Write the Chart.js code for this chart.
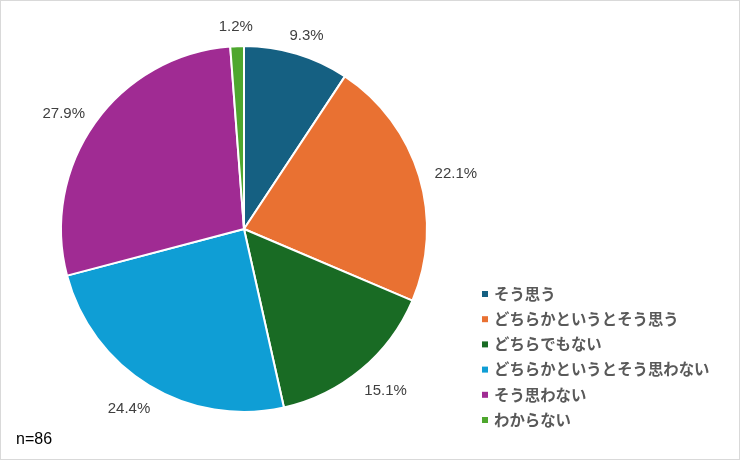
<!DOCTYPE html>
<html>
<head>
<meta charset="utf-8">
<script src="https://cdn.jsdelivr.net/npm/chart.js@4/dist/chart.umd.min.js"></script>
<style>
  html, body { margin: 0; padding: 0; background: #fff; }
  #wrap { width: 740px; height: 460px; position: relative; }
</style>
</head>
<body>
<div id="wrap"><canvas id="myChart" width="740" height="460"></canvas></div>
<script>
// 回答カテゴリ
const categories = ['そう思う', 'どちらかというとそう思う', 'どちらでもない', 'どちらかというとそう思わない', 'そう思わない', 'わからない'];
// 割合 (%)
const percents = [9.3, 22.1, 15.1, 24.4, 27.9, 1.2];
const sliceColors = ['#156082', '#E97132', '#196B24', '#0F9ED5', '#A02B93', '#4EA72E'];
const sampleNote = 'n=86';

// ラベル・凡例・枠線を描くプラグイン
const decorPlugin = {
    id: 'decor',
    afterDraw(chart) {
        const ctx = chart.ctx;
        const meta = chart.getDatasetMeta(0);
        ctx.save();

        // 外側のパーセントラベル (ボックスの内側の端が円周から一定距離)
        ctx.font = '15px "Liberation Sans", Arial, sans-serif';
        ctx.fillStyle = '#404040';
        ctx.textAlign = 'center';
        ctx.textBaseline = 'middle';
        meta.data.forEach((arc, i) => {
            const mid = (arc.startAngle + arc.endAngle) / 2;
            const text = percents[i].toFixed(1) + '%';
            const w = ctx.measureText(text).width;
            const r = arc.outerRadius + 17;
            const cx = arc.x + Math.cos(mid) * (r + w / 2);
            const cy = arc.y + Math.sin(mid) * (r + 6) + 4;
            ctx.fillText(text, cx, cy);
        });

        // 凡例
        ctx.font = 'bold 15.4px "Noto Sans CJK JP", sans-serif';
        ctx.textAlign = 'left';
        categories.forEach((name, i) => {
            const y = 294 + i * 25.2;
            ctx.fillStyle = sliceColors[i];
            ctx.fillRect(482, y - 3, 6, 6);
            ctx.fillStyle = '#595959';
            ctx.fillText(name, 494, y);
        });

        // n=86
        ctx.font = '16px "Liberation Sans", Arial, sans-serif';
        ctx.fillStyle = '#000';
        ctx.fillText(sampleNote, 16, 440);

        // 外枠
        ctx.strokeStyle = '#d9d9d9';
        ctx.lineWidth = 1;
        ctx.strokeRect(0.5, 0.5, chart.width - 1, chart.height - 1);
        ctx.restore();
    }
};

const ctx = document.getElementById('myChart').getContext('2d');
new Chart(ctx, {
    type: 'pie',
    data: {
        labels: categories,
        datasets: [{
            data: percents,
            backgroundColor: sliceColors,
            borderColor: '#ffffff',
            borderWidth: 2
        }]
    },
    options: {
        responsive: false,
        animation: false,
        layout: {
            padding: { left: 60, right: 312, top: 45, bottom: 47 }
        },
        plugins: {
            legend: { display: false },
            tooltip: { enabled: false }
        }
    },
    plugins: [decorPlugin]
});
</script>
</body>
</html>
